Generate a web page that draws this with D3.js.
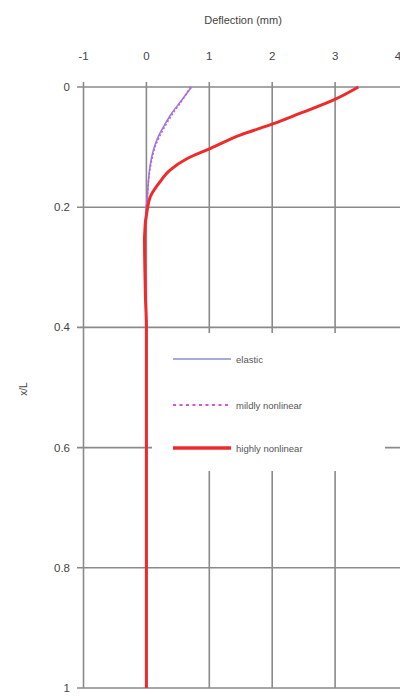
<!DOCTYPE html>
<html><head><meta charset="utf-8">
<script src="https://cdn.jsdelivr.net/npm/d3@7"></script>
<style>body{margin:0;background:#fff}svg{display:block}text{font-family:"Liberation Sans",Arial,sans-serif;}</style>
</head><body>
<svg id="c" width="400" height="696"></svg>
<script>
const xTicks = [-1, 0, 1, 2, 3, 4];
const yTicks = [0, 0.2, 0.4, 0.6, 0.8, 1];
const seriesNames = ["elastic", "mildly nonlinear", "highly nonlinear"];
const xL = [0, 0.022, 0.044, 0.061, 0.08, 0.102, 0.119, 0.138, 0.16, 0.183, 0.2, 0.25, 0.3, 0.35, 0.4, 0.5, 0.6, 0.7, 0.8, 0.9, 1];
const elastic =   [0.72, 0.56, 0.40, 0.30, 0.20, 0.12, 0.08, 0.05, 0.03, 0.015, 0.0, -0.02, -0.02, -0.01, 0, 0, 0, 0, 0, 0, 0];
const mildly =    [0.70, 0.57, 0.42, 0.32, 0.22, 0.13, 0.09, 0.055, 0.03, 0.015, 0.0, -0.02, -0.02, -0.01, 0, 0, 0, 0, 0, 0, 0];
const highly =    [3.37, 2.97, 2.44, 2.02, 1.49, 1.02, 0.65, 0.38, 0.20, 0.06, 0.02, -0.03, -0.025, -0.015, 0, 0, 0, 0, 0, 0, 0];

const svg = d3.select("#c");
const x = d3.scaleLinear().domain([-1, 4]).range([83.5, 398]);
const y = d3.scaleLinear().domain([0, 1]).range([87, 688]);
const grid = "#8a8a8a";

// horizontal gridlines
svg.append("g").selectAll("line").data(yTicks).join("line")
  .attr("x1", 77).attr("x2", 400).attr("y1", d => y(d)).attr("y2", d => y(d))
  .attr("stroke", grid).attr("stroke-width", 1.6);
// vertical gridlines
svg.append("g").selectAll("line").data(xTicks.filter(d => d < 4)).join("line")
  .attr("x1", d => x(d)).attr("x2", d => x(d)).attr("y1", 82).attr("y2", 688)
  .attr("stroke", grid).attr("stroke-width", 1.6);

// top axis labels
svg.append("g").selectAll("text").data(xTicks).join("text")
  .attr("x", d => x(d)).attr("y", 60).attr("text-anchor", "middle")
  .attr("font-size", 11.5).attr("fill", "#444")
  .text(d => String(d));
svg.append("text").attr("x", 243).attr("y", 24).attr("text-anchor", "middle")
  .attr("font-size", 11).attr("fill", "#444").text("Deflection (mm)");

// left axis labels
svg.append("g").selectAll("text").data(yTicks).join("text")
  .attr("x", 70).attr("y", d => y(d) + 4).attr("text-anchor", "end")
  .attr("font-size", 11.5).attr("fill", "#444")
  .text(d => String(d));
svg.append("text").attr("transform", "translate(27,389) rotate(-90)")
  .attr("text-anchor", "middle").attr("font-size", 10).attr("fill", "#444").text("x/L");

// legend background
svg.append("rect").attr("x", 152).attr("y", 333).attr("width", 233).attr("height", 138).attr("fill", "#fff");

const line = (vals) => d3.line().x((d, i) => x(vals[i])).y(d => y(d)).curve(d3.curveMonotoneY)(xL);
svg.append("path").attr("d", line(elastic)).attr("fill", "none").attr("stroke", "#8a86dc").attr("stroke-width", 1.6);
svg.append("path").attr("d", line(mildly)).attr("fill", "none").attr("stroke", "#d455d8").attr("stroke-width", 1.6).attr("stroke-dasharray", "2,2");
svg.append("path").attr("d", line(highly)).attr("fill", "none").attr("stroke", "#ee2b2b").attr("stroke-width", 3);

// legend
const leg = [
  {name: seriesNames[0], y: 359, stroke: "#aaa6de", w: 2, dash: null},
  {name: seriesNames[1], y: 405, stroke: "#d455d8", w: 1.8, dash: "3,3.5"},
  {name: seriesNames[2], y: 448, stroke: "#ee2b2b", w: 3.5, dash: null}
];
const lg = svg.append("g");
leg.forEach(l => {
  lg.append("line").attr("x1", 173).attr("x2", 231).attr("y1", l.y).attr("y2", l.y)
    .attr("stroke", l.stroke).attr("stroke-width", l.w).attr("stroke-dasharray", l.dash);
  lg.append("text").attr("x", 236).attr("y", l.y + 3.5).attr("font-size", 9.5).attr("fill", "#555").text(l.name);
});
</script>
</body></html>
